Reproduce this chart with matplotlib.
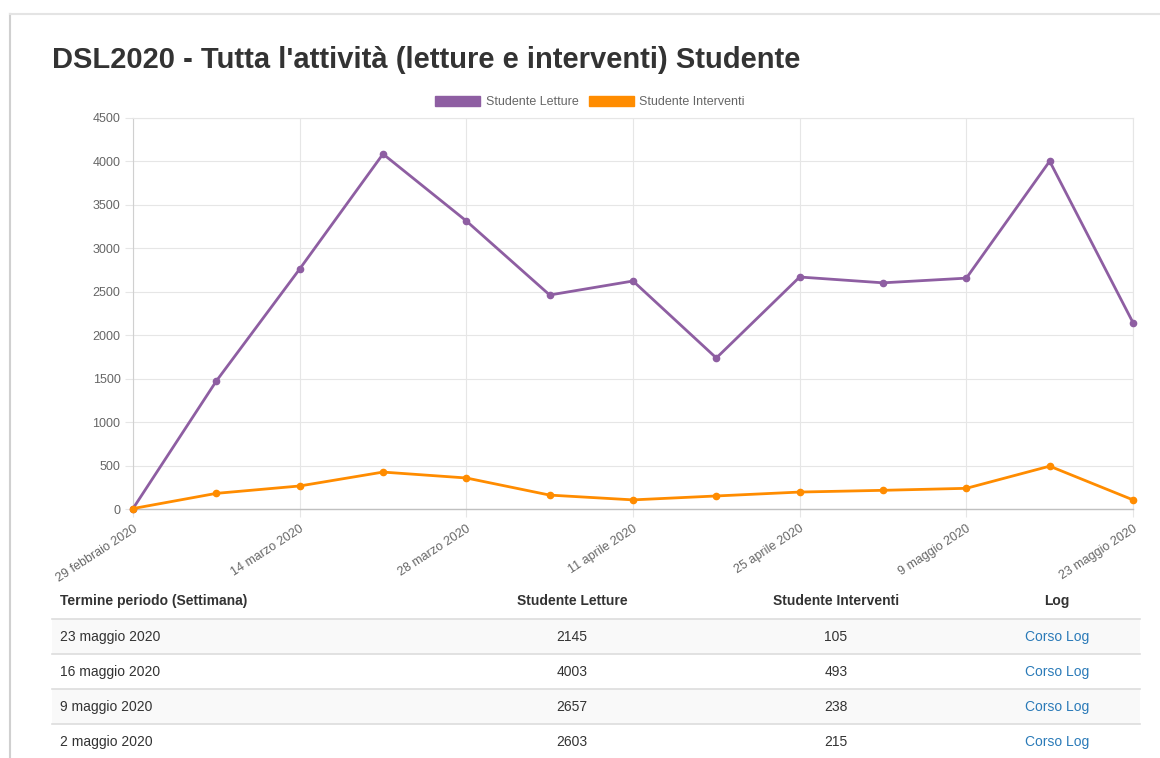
# Weekly student activity chart (readings and posts) with the summary table below it
import matplotlib.pyplot as plt
from matplotlib.patches import Rectangle
from matplotlib.lines import Line2D

plt.rcParams['font.family'] = ['Liberation Sans', 'DejaVu Sans']

# chart data
weeks = ["29 febbraio 2020", "7 marzo 2020", "14 marzo 2020", "21 marzo 2020",
         "28 marzo 2020", "4 aprile 2020", "11 aprile 2020", "18 aprile 2020",
         "25 aprile 2020", "2 maggio 2020", "9 maggio 2020", "16 maggio 2020",
         "23 maggio 2020"]
letture = [5, 1473, 2762, 4086, 3315, 2463, 2624, 1738, 2670, 2603, 2657, 4003, 2145]
interventi = [5, 180, 265, 425, 357, 160, 105, 150, 195, 215, 238, 493, 105]

# table rows (most recent first)
table_dates = ["23 maggio 2020", "16 maggio 2020", "9 maggio 2020", "2 maggio 2020"]
table_letture = [2145, 4003, 2657, 2603]
table_interventi = [105, 493, 238, 215]
table_header = ["Termine periodo (Settimana)", "Studente Letture", "Studente Interventi", "Log"]

purple = "#8e5ea2"
orange = "#ff8c00"

W, H = 1160, 758
fig = plt.figure(figsize=(W / 100, H / 100), dpi=100)

def fx(px):
    return px / W

def fy(py):
    return 1 - py / H

# page frame (screenshot border)
fig.add_artist(Line2D([fx(10), fx(10)], [fy(14), 0], color="#d0d0d0", lw=1.5))
fig.add_artist(Line2D([fx(10), 1], [fy(14), fy(14)], color="#e4e4e4", lw=1.5))

fig.text(fx(52), fy(60), "DSL2020 - Tutta l'attività (letture e interventi) Studente",
         fontsize=21, fontweight="bold", color="#333333", va="center")

# chart area
x0, x1, ytop, ybot = 133, 1133, 118, 509
ax = fig.add_axes([fx(x0), fy(ybot), fx(x1 - x0), (ybot - ytop) / H])
idx = list(range(len(weeks)))
ax.plot(idx, letture, color=purple, lw=2, marker="o", ms=4.5, label="Studente Letture",
        clip_on=False, zorder=3)
ax.plot(idx, interventi, color=orange, lw=2, marker="o", ms=4.5, label="Studente Interventi",
        clip_on=False, zorder=3)

ax.set_xlim(0, len(weeks) - 1)
ax.set_ylim(0, 4500)
ax.set_yticks(range(0, 4501, 500))
ax.set_xticks(idx[::2])
ax.set_xticklabels(weeks[::2], rotation=33, ha="right", rotation_mode="anchor")
ax.tick_params(axis="both", colors="#666666", length=6, color="#e6e6e6")
ax.tick_params(axis="x", pad=4, labelsize=9)
ax.tick_params(axis="y", pad=3, labelsize=9)
ax.grid(True, color="#e6e6e6", lw=0.8)
ax.set_axisbelow(True)
for side in ["top", "right"]:
    ax.spines[side].set_color("#e6e6e6")
    ax.spines[side].set_linewidth(0.8)
ax.spines["left"].set_color("#d0d0d0")
ax.spines["bottom"].set_color("#c0c0c0")
ax.spines["left"].set_linewidth(0.8)
ax.spines["bottom"].set_linewidth(1)

handles = [Rectangle((0, 0), 1, 1, facecolor=purple, edgecolor=purple),
           Rectangle((0, 0), 1, 1, facecolor=orange, edgecolor=orange)]
fig.legend(handles, ["Studente Letture", "Studente Interventi"], loc="center",
           bbox_to_anchor=(fx(590), fy(102)), ncol=2, frameon=False, fontsize=9,
           handlelength=3.6, handleheight=0.9, handletextpad=0.45, columnspacing=0.8,
           labelcolor="#666666")

# table
col_x = [60, 572, 836, 1057]
col_ha = ["left", "center", "center", "center"]
for x, h, ha in zip(col_x, table_header, col_ha):
    fig.text(fx(x), fy(605), h, fontsize=10, fontweight="bold", color="#333333",
             ha=ha, va="baseline")

row_h = 35
row_top = 619
for i, (d, l, n) in enumerate(zip(table_dates, table_letture, table_interventi)):
    top = row_top + i * row_h
    if i % 2 == 0:
        fig.add_artist(Rectangle((fx(52), fy(top + row_h)), fx(1140 - 52), row_h / H,
                                 facecolor="#f9f9f9", edgecolor="none"))
    fig.add_artist(Line2D([fx(52), fx(1140)], [fy(top), fy(top)], color="#dddddd", lw=1.2))
    yb = fy(top + row_h / 2 + 4.5)
    kw = dict(fontsize=10, va="baseline")
    fig.text(fx(col_x[0]), yb, d, color="#333333", ha="left", **kw)
    fig.text(fx(col_x[1]), yb, str(l), color="#333333", ha="center", **kw)
    fig.text(fx(col_x[2]), yb, str(n), color="#333333", ha="center", **kw)
    fig.text(fx(col_x[3]), yb, "Corso Log", color="#2a7ab8", ha="center", **kw)

fig.savefig("out.png", dpi=100)
